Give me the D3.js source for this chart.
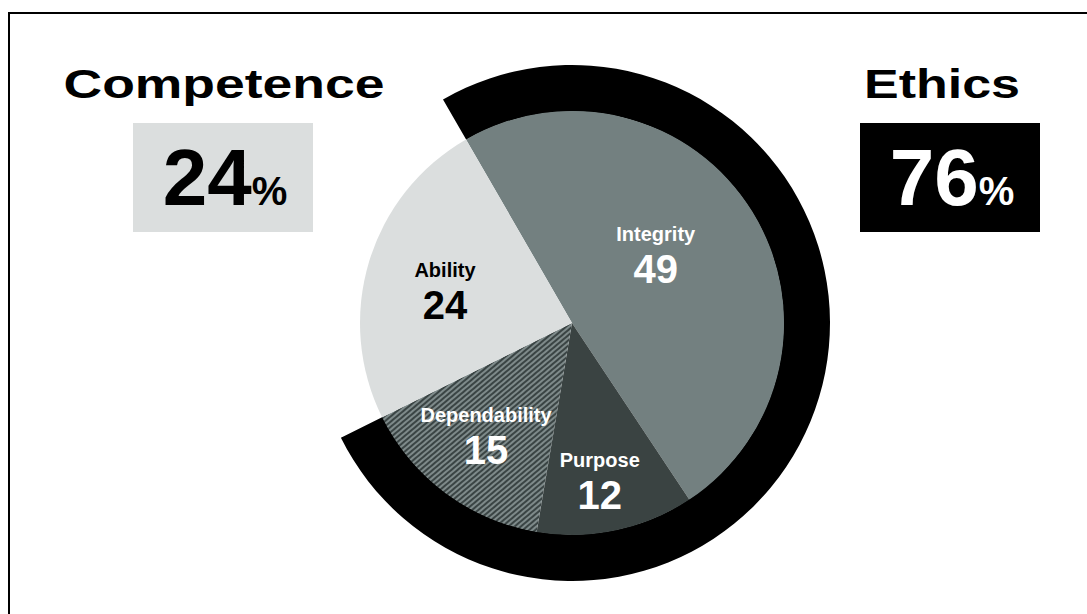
<!DOCTYPE html>
<html>
<head>
<meta charset="utf-8">
<script src="https://cdn.jsdelivr.net/npm/d3@7"></script>
<style>
  html, body { margin: 0; padding: 0; background: #fff; }
  svg { display: block; }
  text { font-family: "Liberation Sans", Arial, Helvetica, sans-serif; font-weight: bold; }
</style>
</head>
<body>
<svg id="chart" width="1087" height="614"></svg>
<script>
// Trust drivers, in percent
const categories = ["Integrity", "Purpose", "Dependability", "Ability"];
const values = [49, 12, 15, 24];
const groupOf = ["Ethics", "Ethics", "Ethics", "Competence"];
const groupNames = ["Competence", "Ethics"];

const W = 1087, H = 614;
const cx = 572, cy = 323;
const rPie = 212, rRingOuter = 258;
const startDeg = -30;

const svg = d3.select("#chart");
const rad = d => d * Math.PI / 180;

// striped fill for Dependability
const defs = svg.append("defs");
const pat = defs.append("pattern")
  .attr("id", "stripes")
  .attr("patternUnits", "userSpaceOnUse")
  .attr("width", 4).attr("height", 4)
  .attr("patternTransform", "rotate(50)");
pat.append("rect").attr("width", 4).attr("height", 4).attr("fill", "#3a4444");
pat.append("rect").attr("width", 2).attr("height", 4).attr("fill", "#7e8a8a");

const fills = {
  Integrity: "#738080",
  Purpose: "#3a4342",
  Dependability: "url(#stripes)",
  Ability: "#dbdede"
};
const textColor = { Integrity: "#fff", Purpose: "#fff", Dependability: "#fff", Ability: "#000" };
// label anchor: radius and angular nudge (deg) from slice middle
const labelPolar = {
  Integrity: [117, -12.5],
  Purpose: [147, 1.1],
  Dependability: [131, 4.4],
  Ability: [135, 3]
};

const rows = categories.map((c, i) => ({ name: c, value: values[i], group: groupOf[i] }));

const pie = d3.pie()
  .sort(null)
  .value(d => d.value)
  .startAngle(rad(startDeg))
  .endAngle(rad(startDeg + 360));
const arcs = pie(rows);

const g = svg.append("g").attr("transform", `translate(${cx},${cy})`);

// outer ring spanning the Ethics slices
const ethicsArcs = arcs.filter(a => a.data.group === "Ethics");
const ringArc = d3.arc().innerRadius(rPie - 0.5).outerRadius(rRingOuter);
g.append("path")
  .attr("d", ringArc({
    startAngle: d3.min(ethicsArcs, a => a.startAngle),
    endAngle: d3.max(ethicsArcs, a => a.endAngle)
  }))
  .attr("fill", "#000");

const sliceArc = d3.arc().innerRadius(0).outerRadius(rPie);
g.selectAll("path.slice")
  .data(arcs)
  .join("path")
  .attr("class", "slice")
  .attr("d", sliceArc)
  .attr("fill", d => fills[d.data.name]);

// slice labels
const labels = g.selectAll("g.lbl")
  .data(arcs)
  .join("g")
  .attr("class", "lbl")
  .attr("transform", d => {
    const [r, nudge] = labelPolar[d.data.name];
    const a = (d.startAngle + d.endAngle) / 2 + rad(nudge);
    return `translate(${r * Math.sin(a)},${-r * Math.cos(a)})`;
  });
labels.append("text")
  .attr("text-anchor", "middle")
  .attr("font-size", 20)
  .attr("fill", d => textColor[d.data.name])
  .text(d => d.data.name);
labels.append("text")
  .attr("text-anchor", "middle")
  .attr("y", 42)
  .attr("font-size", 40)
  .attr("fill", d => textColor[d.data.name])
  .text(d => d.data.value);

// group totals
const totals = groupNames.map(n => d3.sum(rows.filter(r => r.group === n), r => r.value));
const panels = [
  { name: groupNames[0], total: totals[0], x: 133, titleX: 224, titleLen: 321, box: "#dbdede", ink: "#000" },
  { name: groupNames[1], total: totals[1], x: 860, titleX: 942, titleLen: 156, box: "#000", ink: "#fff" }
];
panels.forEach(p => {
  svg.append("text")
    .attr("x", p.titleX).attr("y", 98)
    .attr("text-anchor", "middle")
    .attr("font-size", 41)
    .attr("textLength", p.titleLen)
    .attr("lengthAdjust", "spacingAndGlyphs")
    .attr("fill", "#000")
    .text(p.name);
  svg.append("rect")
    .attr("x", p.x).attr("y", 123)
    .attr("width", 180).attr("height", 109)
    .attr("fill", p.box);
  const t = svg.append("text")
    .attr("x", p.x + 92).attr("y", 205)
    .attr("text-anchor", "middle")
    .attr("fill", p.ink);
  t.append("tspan").attr("font-size", 80).text(p.total);
  t.append("tspan").attr("font-size", 40).text("%");
});

// frame
svg.append("path")
  .attr("d", `M9,${H} V13 H${W}`)
  .attr("fill", "none")
  .attr("stroke", "#000")
  .attr("stroke-width", 2);
</script>
</body>
</html>
